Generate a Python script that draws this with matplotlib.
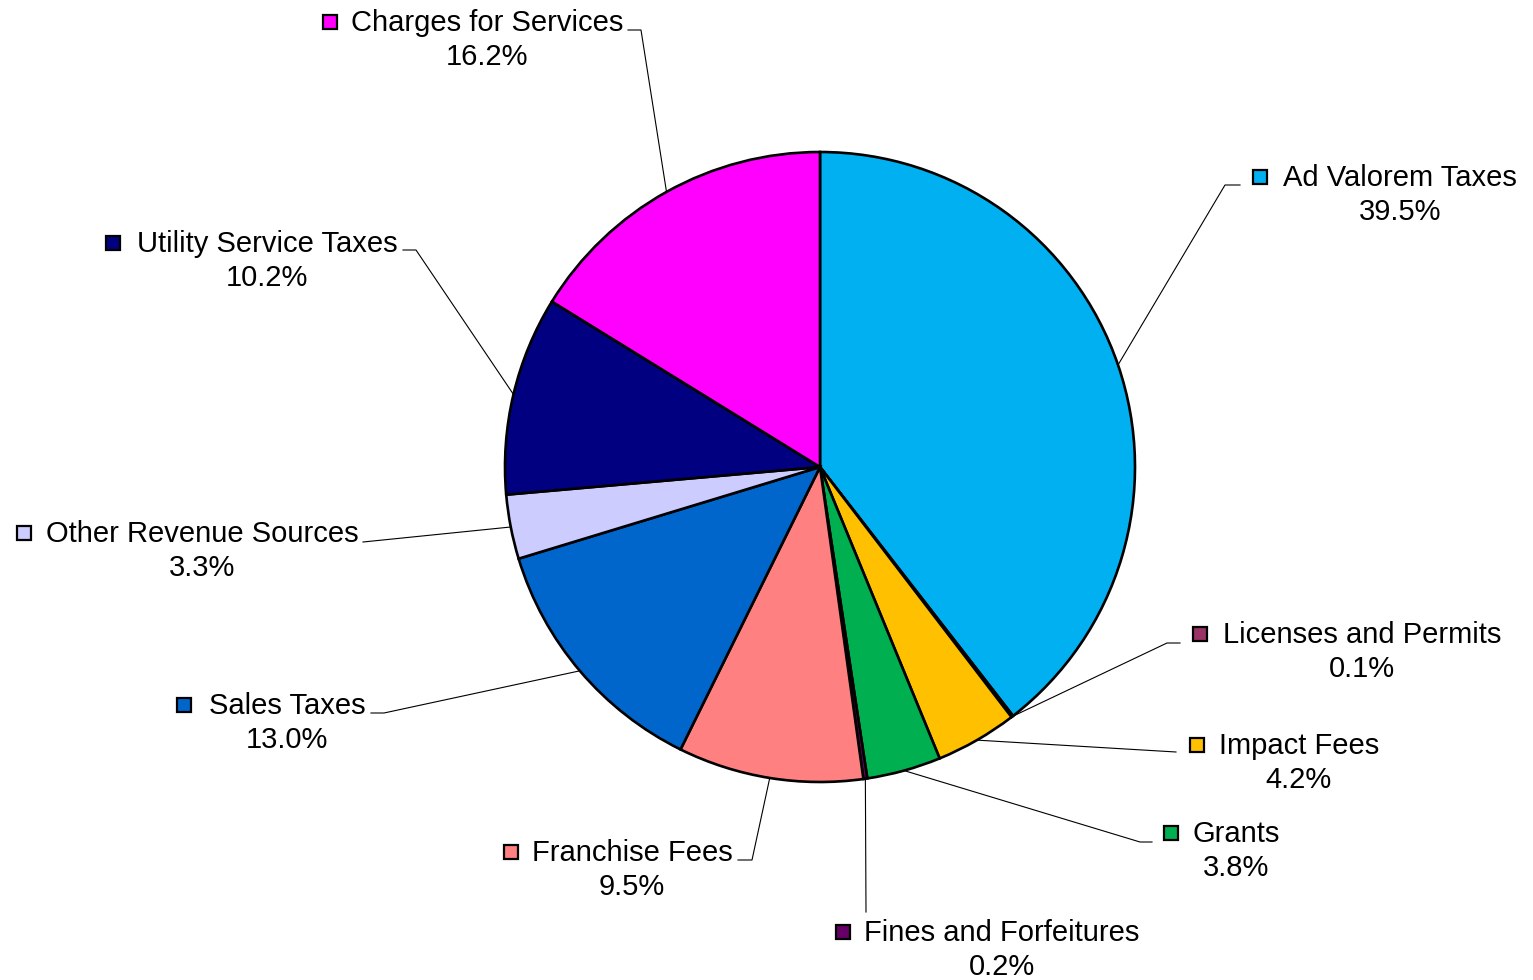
import numpy as np
import matplotlib; matplotlib.use("Agg")
import matplotlib.pyplot as plt

labels = ["Ad Valorem Taxes", "Licenses and Permits", "Impact Fees", "Grants",
          "Fines and Forfeitures", "Franchise Fees", "Sales Taxes",
          "Other Revenue Sources", "Utility Service Taxes", "Charges for Services"]
shares = [39.5, 0.1, 4.2, 3.8, 0.2, 9.5, 13.0, 3.3, 10.2, 16.2]
colors = ["#00B0F0", "#993366", "#FFC000", "#00B050", "#660066",
          "#FF8080", "#0066CC", "#CCCCFF", "#000080", "#FF00FF"]

# layout in pixel coords (y down): name-centre x, name y, leader corner points
W, H = 1533, 980
name_pos = [(1400, 178), (1362, 635), (1299, 746), (1236, 834), (1002, 933),
            (632, 853), (287, 706), (202, 534), (267, 244), (487, 23)]
square_x = [1260, 1200, 1197, 1171, 843, 511, 184, 24, 113, 330]
leader_pts = [[(1225, 185), (1240, 185)],
              [(1167, 643), (1180, 643)],
              [(1176, 752)],
              [(1140, 842), (1152, 842)],
              [(866, 912)],
              [(752, 860), (738, 860)],
              [(384, 713), (371, 713)],
              [(363, 542)],
              [(416, 250), (403, 250)],
              [(641, 30), (628, 30)]]

cx, cy, R = 820, 467, 315
plt.rcParams["font.family"] = ["Liberation Sans", "DejaVu Sans"]

fig = plt.figure(figsize=(W / 100, H / 100), dpi=100)
ax = fig.add_axes([0, 0, 1, 1])

ax.pie(shares, colors=colors, startangle=90, counterclock=False,
       center=(cx, H - cy), radius=R, frame=True,
       wedgeprops=dict(edgecolor="black", linewidth=1.9))
ax.set_xlim(0, W); ax.set_ylim(0, H)
ax.set_aspect("equal"); ax.axis("off")

cum = np.cumsum([0] + shares[:-1])
for i, lab in enumerate(labels):
    ang = np.deg2rad(90 - (cum[i] + shares[i] / 2) * 3.6)
    sx, sy = cx + R * np.cos(ang), cy - R * np.sin(ang)
    xs = [sx] + [p[0] for p in leader_pts[i]]
    ys = [H - sy] + [H - p[1] for p in leader_pts[i]]
    ax.plot(xs, ys, color="black", lw=0.8, zorder=1)
    nx, ny = name_pos[i]
    ax.text(nx, H - ny, lab, fontsize=21, ha="center", va="center")
    ax.text(nx, H - ny - 34, f"{shares[i]:.1f}%", fontsize=21, ha="center", va="center")
    ax.plot(square_x[i], H - ny + 1, marker="s", ms=9.5, mfc=colors[i], mec="black", mew=1.6)

fig.savefig("out.png", dpi=100)
